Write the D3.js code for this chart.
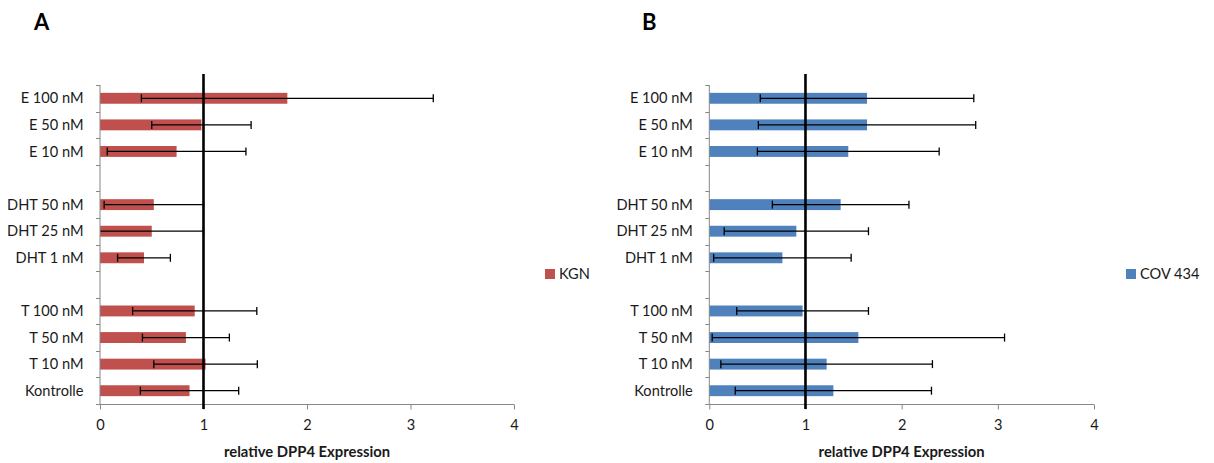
<!DOCTYPE html>
<html>
<head>
<meta charset="utf-8">
<script src="https://cdn.jsdelivr.net/npm/d3@7"></script>
<style>
  html, body { margin: 0; padding: 0; background: #fff; }
  svg { display: block; font-family: Lato, "Open Sans", sans-serif; }
</style>
</head>
<body>
<svg id="chart" width="1214" height="463"></svg>
<script>
// Treatment groups, bottom to top; blank entries leave a gap between groups
const categories = ["Kontrolle", "T 10 nM", "T 50 nM", "T 100 nM", "",
  "DHT 1 nM", "DHT 25 nM", "DHT 50 nM", "", "E 10 nM", "E 50 nM", "E 100 nM"];

// KGN cells: mean relative expression and error (±)
const kgnMean = [0.865, 1.02, 0.83, 0.915, null, 0.425, 0.50, 0.52, null, 0.74, 0.98, 1.81];
const kgnErr  = [0.475, 0.50, 0.42, 0.60, null, 0.255, 0.50, 0.48, null, 0.67, 0.48, 1.41];

// COV 434 cells
const covMean = [1.29, 1.22, 1.55, 0.97, null, 0.76, 0.905, 1.366, null, 1.445, 1.64, 1.64];
const covErr  = [1.02, 1.10, 1.52, 0.685, null, 0.715, 0.75, 0.71, null, 0.945, 1.13, 1.11];

const xTicks = [0, 1, 2, 3, 4];
const axisTitle = "relative DPP4 Expression";

const svg = d3.select("#chart");
const axisGrey = "#868686";
const textColor = "#1a1a1a";
const fs = 14.6;

function panel(opt) {
  const g = svg.append("g");
  const x = d3.scaleLinear().domain([0, 4]).range([opt.x0, opt.x1]);
  const y = d3.scaleBand().domain(d3.range(categories.length))
    .range([404, 85]).paddingInner(0.59).paddingOuter(0.295);
  const yEdge = d3.scaleLinear().domain([0, categories.length]).range([404, 85]);

  // letter heading
  g.append("text").attr("x", opt.letterX).attr("y", 30)
    .attr("font-size", 22).attr("font-weight", "bold").attr("fill", "#000")
    .text(opt.letter);

  // bars
  const rows = d3.range(categories.length).filter(i => opt.mean[i] != null);
  g.selectAll("rect.bar").data(rows).join("rect")
    .attr("class", "bar")
    .attr("x", x(0))
    .attr("y", i => y(i))
    .attr("width", i => x(opt.mean[i]) - x(0))
    .attr("height", y.bandwidth())
    .attr("fill", opt.color);

  // error bars, clipped at the value axis
  const cap = 4;
  const eb = g.selectAll("g.err").data(rows).join("g").attr("class", "err")
    .attr("stroke", "#000").attr("stroke-width", 1.3);
  eb.each(function(i) {
    const s = d3.select(this);
    const cy = y(i) + y.bandwidth() / 2;
    const lo = Math.max(0, opt.mean[i] - opt.err[i]);
    const hi = opt.mean[i] + opt.err[i];
    s.append("line").attr("x1", x(lo)).attr("x2", x(hi)).attr("y1", cy).attr("y2", cy);
    if (opt.mean[i] - opt.err[i] > 0) {
      s.append("line").attr("x1", x(lo)).attr("x2", x(lo)).attr("y1", cy - cap).attr("y2", cy + cap);
    }
    s.append("line").attr("x1", x(hi)).attr("x2", x(hi)).attr("y1", cy - cap).attr("y2", cy + cap);
  });

  // category axis
  const yAxis = g.append("g");
  yAxis.append("line").attr("x1", x(0)).attr("x2", x(0)).attr("y1", 85).attr("y2", 404)
    .attr("stroke", axisGrey).attr("stroke-width", 1);
  yAxis.selectAll("line.tick").data(d3.range(categories.length + 1)).join("line")
    .attr("class", "tick")
    .attr("x1", x(0) - 4).attr("x2", x(0))
    .attr("y1", k => Math.round(yEdge(k)) + 0.5).attr("y2", k => Math.round(yEdge(k)) + 0.5)
    .attr("stroke", axisGrey);
  yAxis.selectAll("text").data(d3.range(categories.length)).join("text")
    .attr("x", x(0) - 16.5)
    .attr("y", i => y(i) + y.bandwidth() / 2)
    .attr("dy", "0.35em")
    .attr("text-anchor", "end")
    .attr("font-size", fs)
    .attr("fill", textColor)
    .text(i => categories[i]);

  // value axis
  const xAxis = g.append("g").attr("transform", "translate(0,404.5)")
    .call(d3.axisBottom(x).tickValues(xTicks).tickFormat(d3.format("d")).tickSize(5).tickPadding(10));
  xAxis.select(".domain").attr("stroke", axisGrey).attr("d", `M${x(0)},0H${x(4)}`);
  xAxis.selectAll(".tick line").attr("stroke", axisGrey);
  xAxis.selectAll(".tick text").attr("font-size", fs).attr("fill", textColor)
    .attr("font-family", "Lato, sans-serif");

  g.append("text").attr("x", (x(0) + x(4)) / 2).attr("y", 457)
    .attr("text-anchor", "middle").attr("font-size", 14.8).attr("font-weight", "bold")
    .attr("fill", textColor).text(axisTitle);

  // reference line at relative expression = 1
  g.append("line").attr("x1", x(1)).attr("x2", x(1)).attr("y1", 74).attr("y2", 409)
    .attr("stroke", "#000").attr("stroke-width", 2.6);

  // legend
  g.append("rect").attr("x", opt.legX).attr("y", 269).attr("width", 10).attr("height", 10)
    .attr("fill", opt.color);
  g.append("text").attr("x", opt.legX + 14).attr("y", 274).attr("dy", "0.35em")
    .attr("font-size", fs).attr("fill", textColor).text(opt.name);
}

panel({ letter: "A", letterX: 34, x0: 100, x1: 514, mean: kgnMean, err: kgnErr,
  color: "#C0504D", name: "KGN", legX: 545 });
panel({ letter: "B", letterX: 642, x0: 709.3, x1: 1094, mean: covMean, err: covErr,
  color: "#4F81BD", name: "COV 434", legX: 1126 });
</script>
</body>
</html>
